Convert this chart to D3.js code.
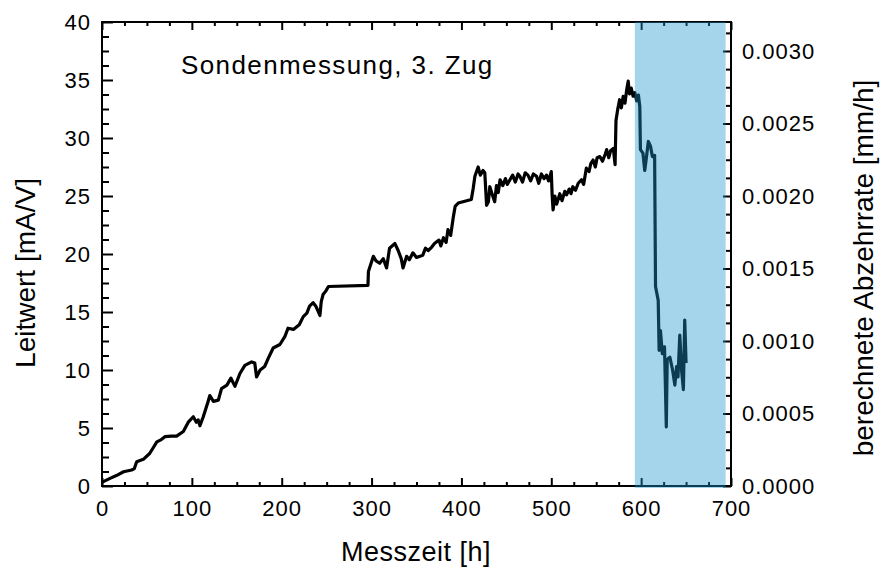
<!DOCTYPE html>
<html>
<head>
<meta charset="utf-8">
<script src="https://cdn.jsdelivr.net/npm/d3@7"></script>
<style>
  html, body { margin: 0; padding: 0; background: #fff; }
  svg text { font-family: "Liberation Sans", Arial, sans-serif; fill: #000; }
</style>
</head>
<body>
<svg id="chart" width="881" height="567"></svg>
<script>
// ---- data ----
const times = [0,2,9,16,24,33,36,38.6,46,53,57,61,66,70,77,83,90.5,96,101.6,105,107,109,112.7,118,120,124,129.5,133,139,143.5,146,148,153.5,159,166.5,170,172,176,181,185,190.5,198,203.6,207,213,219.5,224,228,231,235,238,242.5,244,246,249,252,296,296.5,302,305,309,313,316.7,320,326,329.6,333,335,339,342,346,350,357,360,363,367,370,375,377,380,383,385,388,391,393,396.5,411,413,415,418.6,421,424,426,428,430,431.6,434,437,439,441,443,446,449,451,454,457,460,463,465,468,471,474,477,480,483.6,486,489,492,494.6,497,500,501,502,504,506,509.5,512,515,517,520,522,524,527,530,533.6,536,539,542,544,546.5,549,551,554,557,560,561.6,564,566,569,571,572,574,576,578,580,582,584,585.6,587,589,591,593,595,597,598.5,599.2,602,604,606,608,610.4,612.5,615,616,619,620,621.5,623.6,626,628,629,632,635,637.5,639.5,641,643,645,647,648.5,650];
const leitwert = [0.3,0.4,0.66,0.9,1.23,1.38,1.5,2.1,2.3,2.8,3.3,3.8,4.0,4.25,4.3,4.3,4.7,5.5,5.97,5.5,5.7,5.2,5.97,7.27,7.8,7.3,7.4,8.4,8.7,9.3,8.9,8.6,9.7,10.4,10.7,10.6,9.4,10.0,10.3,11.0,11.9,12.2,12.9,13.6,13.5,13.9,14.6,14.9,15.5,15.8,15.5,14.7,15.9,16.5,16.8,17.2,17.3,18.5,19.8,19.4,19.2,19.6,18.8,20.5,20.9,20.3,19.6,18.8,19.8,19.5,20.1,19.7,19.9,20.5,20.3,20.6,20.9,21.2,20.7,21.4,21.0,22.1,21.6,23.2,24.1,24.4,24.7,25.6,26.7,27.5,26.8,27.2,27.0,24.2,24.5,25.8,25.2,24.5,25.9,25.3,26.4,25.9,26.5,26.0,26.4,26.8,26.2,26.9,26.7,26.2,27.0,26.8,26.3,26.9,26.7,26.1,26.9,26.5,26.8,26.3,27.1,25.0,23.8,25.0,24.3,25.2,24.6,25.4,25.1,25.6,25.2,25.8,25.5,26.1,26.4,26.0,27.4,27.1,27.8,28.1,27.5,28.3,28.4,28.0,28.6,29.0,28.3,28.9,29.1,27.7,31.5,32.5,33.3,32.6,33.6,33.0,34.2,34.9,33.8,34.3,33.6,33.9,33.2,33.7,32.7,29.0,28.7,27.2,28.4,29.7,29.3,28.4,28.5,17.2,16.0,11.7,13.4,11.4,12.0,5.1,10.9,11.1,10.0,8.7,10.3,9.4,13.0,10.0,8.3,14.3,10.6];
const shadeRange = [593, 694];
const xMajorTicks = [0,100,200,300,400,500,600,700];
const yLeftMajorTicks = [0,5,10,15,20,25,30,35,40];
const yRightMajorTicks = [0,0.0005,0.0010,0.0015,0.0020,0.0025,0.0030];
const xDomain = [0, 700];
const yLeftDomain = [0, 40];
const yRightDomain = [0, 0.0032];
const annotation = "Sondenmessung, 3. Zug";
const xTitle = "Messzeit [h]";
const yLeftTitle = "Leitwert [mA/V]";
const yRightTitle = "berechnete Abzehrrate [mm/h]";

// ---- layout ----
const L = 102, R = 731, T = 22, B = 486;
const svg = d3.select("#chart");
const x = d3.scaleLinear().domain(xDomain).range([L, R]);
const yL = d3.scaleLinear().domain(yLeftDomain).range([B, T]);
const yR = d3.scaleLinear().domain(yRightDomain).range([B, T]);

const xMinor = d3.range(0, 701, 25).filter(v => v % 100 !== 0);
const yLMinor = d3.range(0, 40.01, 1.25).filter(v => Math.abs(v/5 - Math.round(v/5)) > 1e-6);
const yRMinor = d3.range(0, 0.00321, 0.000125).filter(v => Math.abs(v/0.0005 - Math.round(v/0.0005)) > 1e-6);

const fmtR = d3.format(".4f");

function styleAxis(g) {
  g.select(".domain").remove();
  g.selectAll(".tick line").attr("stroke", "#000").attr("stroke-width", 2);
  g.selectAll(".tick text").attr("font-size", 22).attr("letter-spacing", "1px")
    .style("font-family", '"Liberation Sans", Arial, sans-serif');
}

// line
const line = d3.line().x((d, i) => x(times[i])).y((d, i) => yL(leitwert[i]));
svg.append("path").datum(leitwert).attr("d", line)
  .attr("fill", "none").attr("stroke", "#000").attr("stroke-width", 3.2)
  .attr("stroke-linejoin", "round");

// axes: bottom
svg.append("g").attr("transform", `translate(0,${B})`)
  .call(d3.axisBottom(x).tickValues(xMajorTicks).tickSize(-8).tickPadding(14).tickFormat(d3.format("d")))
  .call(styleAxis);
svg.append("g").attr("transform", `translate(0,${B})`)
  .call(d3.axisBottom(x).tickValues(xMinor).tickSize(-4).tickFormat(""))
  .call(styleAxis);
// top
svg.append("g").attr("transform", `translate(0,${T})`)
  .call(d3.axisTop(x).tickValues(xMajorTicks).tickSize(-8).tickFormat(""))
  .call(styleAxis);
svg.append("g").attr("transform", `translate(0,${T})`)
  .call(d3.axisTop(x).tickValues(xMinor).tickSize(-4).tickFormat(""))
  .call(styleAxis);
// left
svg.append("g").attr("transform", `translate(${L},0)`)
  .call(d3.axisLeft(yL).tickValues(yLeftMajorTicks).tickSize(-11).tickPadding(11).tickFormat(d3.format("d")))
  .call(styleAxis);
svg.append("g").attr("transform", `translate(${L},0)`)
  .call(d3.axisLeft(yL).tickValues(yLMinor).tickSize(-7).tickFormat(""))
  .call(styleAxis);
// right
svg.append("g").attr("transform", `translate(${R},0)`)
  .call(d3.axisRight(yR).tickValues(yRightMajorTicks).tickSize(-8).tickPadding(11).tickFormat(fmtR))
  .call(styleAxis);
svg.append("g").attr("transform", `translate(${R},0)`)
  .call(d3.axisRight(yR).tickValues(yRMinor).tickSize(-5).tickFormat(""))
  .call(styleAxis);

// frame
svg.append("rect").attr("x", L).attr("y", T).attr("width", R - L).attr("height", B - T)
  .attr("fill", "none").attr("stroke", "#000").attr("stroke-width", 2);

// shaded region (drawn on top, translucent)
svg.append("rect")
  .attr("x", x(shadeRange[0])).attr("y", T)
  .attr("width", x(shadeRange[1]) - x(shadeRange[0])).attr("height", B - T + 2)
  .attr("fill", "rgb(28,149,202)").attr("fill-opacity", 0.4);

// annotation
svg.append("text").attr("x", 181).attr("y", 74).attr("font-size", 26)
  .attr("letter-spacing", "1.4px").text(annotation);

// titles
svg.append("text").attr("x", 416).attr("y", 561).attr("text-anchor", "middle")
  .attr("font-size", 27).attr("letter-spacing", "0.5px").text(xTitle);
svg.append("text").attr("transform", "translate(35,273) rotate(-90)")
  .attr("text-anchor", "middle").attr("font-size", 28).text(yLeftTitle);
svg.append("text").attr("transform", "translate(873,268) rotate(-90)")
  .attr("text-anchor", "middle").attr("font-size", 28).text(yRightTitle);
</script>
</body>
</html>
